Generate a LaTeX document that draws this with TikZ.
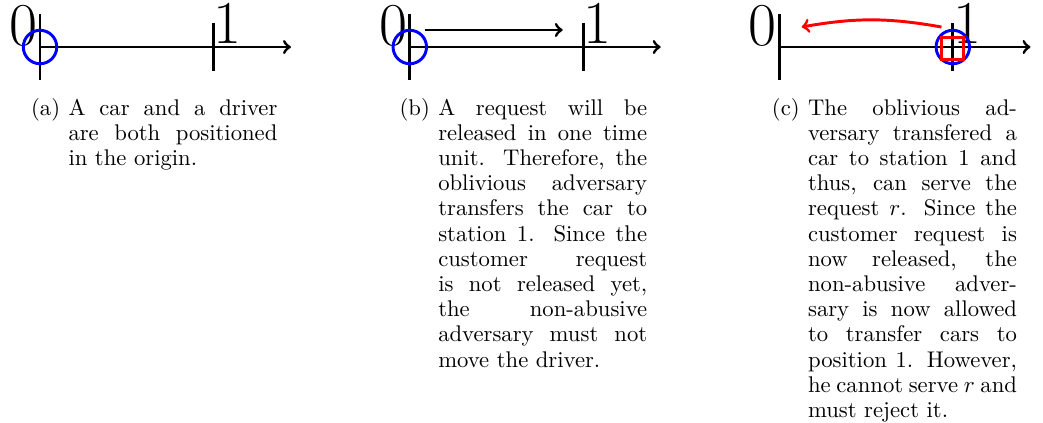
\documentclass[tikz,border=0pt]{standalone}
\usepackage{amsmath}
\usepackage{amssymb}
\usepackage{tikz}

\begin{document}
\begin{tikzpicture}[
        axis/.style={line width=1.4pt,->},
        tickline/.style={line width=1.4pt},
        car/.style={circle,draw=blue,line width=1.4pt,minimum size=0.56cm,inner sep=0pt},
        driver/.style={rectangle,draw=red,line width=1.4pt,minimum size=0.37cm,inner sep=0pt},
        num/.style={inner sep=0pt,font=\fontsize{29}{32}\selectfont},
        captext/.style={anchor=north west,inner sep=0pt,text width=99.5pt,align=justify,font=\fontsize{10.8}{12}\selectfont},
        caplbl/.style={anchor=north east,inner sep=0pt,xshift=-3.6pt,font=\fontsize{10.8}{12}\selectfont}
    ]
        \useasboundingbox (-0.67, 0.787) rectangle (16.79, -6.294);
        % (a) start
        \coordinate (ao) at (0, 0);
        \coordinate (aend) at (4.2, 0);
        \draw[axis] (ao) -- (aend);
        \draw[tickline] (0, 0.55) -- (0, -0.55);
        \draw[tickline, shift={(2.9, 0)}] (0, 0.4) -- (0, -0.4);
        \node[num, anchor=base east] (a0) at (-0.04, 0.03) {0};
        \node[num, anchor=base west] (a1) at (2.9, 0.06) {1};
        \node[car] (acar) at (ao) {};
        \node[captext] (capa) at (0.47, -0.838) {\strut A car and a driver are both positioned in the origin.};
        \node[caplbl] (lbla) at (capa.north west) {\strut(a)};

        % (b) car goes to 1
        \begin{scope}[shift={(6.19, 0)}]
            \coordinate (bo) at (0, 0);
            \coordinate (bend) at (4.2, 0);
            \draw[axis] (bo) -- (bend);
            \draw[tickline] (0, 0.55) -- (0, -0.55);
            \draw[tickline, shift={(2.9, 0)}] (0, 0.4) -- (0, -0.4);
            \node[num, anchor=base east] (b0) at (-0.04, 0.03) {0};
            \node[num, anchor=base west] (b1) at (2.9, 0.06) {1};
            \node[car] (bcar) at (bo) {};
            \coordinate (bfrom) at (0.25, 0.285);
            \coordinate (bto) at (2.56, 0.285);
            \draw[axis] (bfrom) -- (bto);
            \node[captext] (capb) at (0.47, -0.838) {\strut A request will be released in one time unit. Therefore, the oblivious adversary transfers the car to station 1. Since the customer request\linebreak is not released yet,\linebreak the non-abusive\linebreak adversary must not move the driver.};
            \node[caplbl] (lblb) at (capb.north west) {\strut(b)};
        \end{scope}

        % (c) request released
        \begin{scope}[shift={(12.38, 0)}]
            \coordinate (co) at (0, 0);
            \coordinate (cend) at (4.2, 0);
            \draw[axis] (co) -- (cend);
            \draw[tickline] (0, 0.55) -- (0, -0.55);
            \draw[tickline, shift={(2.9, 0)}] (0, 0.4) -- (0, -0.4);
            \node[num, anchor=base east] (c0) at (-0.04, 0.03) {0};
            \node[num, anchor=base west] (c1) at (2.9, 0.06) {1};
            \node[car] (ccar) at (2.9, 0) {};
            \node[driver] (cdrv) at (2.9, -0.03) {};
            \coordinate (cfrom) at (2.71, 0.335);
            \coordinate (cto) at (0.37, 0.335);
            \draw[axis, red] (cfrom) to[bend right=10] (cto);
            \node[captext] (capc) at (0.47, -0.838) {\strut The oblivious ad-\linebreak versary transfered a\linebreak car to station 1 and\linebreak thus, can serve the\linebreak request $r$. Since the\linebreak customer request is\linebreak now released, the\linebreak non-abusive adver-\linebreak sary is now allowed\linebreak to transfer cars to\linebreak position 1. However,\linebreak he cannot serve $r$ and\linebreak must reject it.};
            \node[caplbl] (lblc) at (capc.north west) {\strut(c)};
        \end{scope}
    \end{tikzpicture}
\end{document}
